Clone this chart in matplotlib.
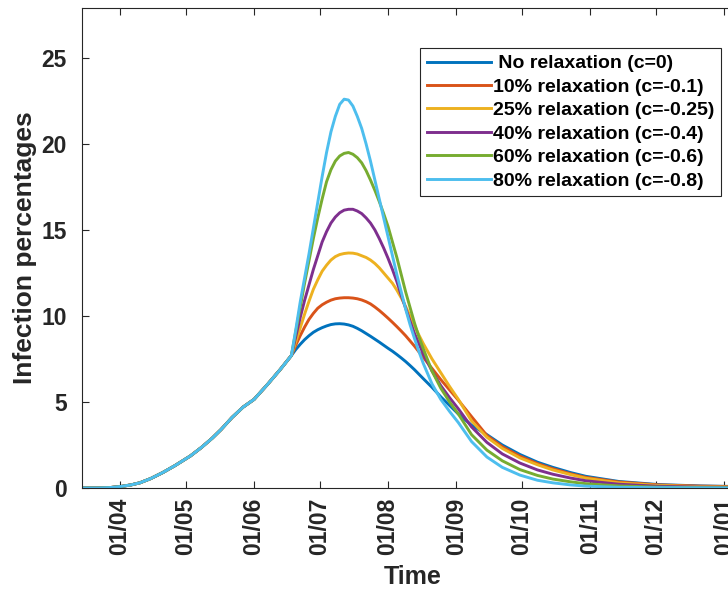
import numpy as np
import matplotlib
matplotlib.use('Agg')
import matplotlib.pyplot as plt
import matplotlib.dates as mdates
import pandas as pd

plt.rcParams['font.family'] = ['Liberation Sans', 'DejaVu Sans']
plt.rcParams['font.weight'] = 'bold'

# days counted from 1 April 2020, part shared by all scenarios
giorni_comuni = [-17, -10, -5, 0, 5, 9, 14, 19.5, 25, 32, 37, 42, 46, 51, 56, 61, 67, 73]
valori_comuni = [0, 0, 0.02, 0.08, 0.18, 0.3, 0.55, 0.9, 1.3, 1.86, 2.35, 2.9, 3.4, 4.1,
                 4.7, 5.15, 6.0, 6.9]

# after relaxation
giorni = [78, 80, 82, 84, 86, 88, 90, 92, 94, 96, 98, 100, 102, 104, 106, 108, 110, 112,
          114, 116, 118, 120, 122, 124, 126, 128, 130, 132, 134, 136, 138,
          142, 146, 150, 154, 160, 167, 174, 182, 190, 197, 205, 212, 227, 245, 264, 284]

c0 = [7.7, 8.05, 8.35, 8.62, 8.85, 9.05, 9.2, 9.32, 9.42, 9.5, 9.54, 9.55, 9.53, 9.48, 9.4,
      9.28, 9.14, 8.98, 8.82, 8.65, 8.48, 8.3, 8.12, 7.95, 7.76, 7.56, 7.35, 7.12, 6.88, 6.62,
      6.36, 5.85, 5.3, 4.8, 4.3, 3.65, 3.1, 2.5, 1.95, 1.5, 1.2, 0.9, 0.68, 0.38, 0.2, 0.12,
      0.08]
c01 = [7.7, 8.3, 8.85, 9.35, 9.8, 10.15, 10.45, 10.65, 10.8, 10.92, 11.0, 11.04, 11.06,
       11.06, 11.04, 11.0, 10.93, 10.83, 10.7, 10.52, 10.32, 10.1, 9.87, 9.63, 9.38, 9.12,
       8.85, 8.55, 8.25, 7.92, 7.6, 6.95, 6.3, 5.7, 5.1, 4.15, 3.05, 2.4, 1.85, 1.42, 1.12,
       0.83, 0.62, 0.35, 0.18, 0.11, 0.07]
c025 = [7.7, 8.5, 9.3, 10.1, 10.85, 11.55, 12.1, 12.6, 12.95, 13.25, 13.45, 13.57, 13.63,
        13.66, 13.65, 13.6, 13.5, 13.4, 13.25, 13.05, 12.8, 12.5, 12.2, 11.9, 11.5, 11.05,
        10.55, 10.0, 9.45, 8.9, 8.4, 7.5, 6.7, 5.9, 5.15, 3.9, 2.95, 2.3, 1.75, 1.35, 1.05,
        0.78, 0.57, 0.3, 0.15, 0.08, 0.05]
c04 = [7.7, 8.8, 9.9, 10.9, 11.8, 12.7, 13.5, 14.3, 14.9, 15.4, 15.75, 16.0, 16.15, 16.2,
       16.2, 16.1, 15.95, 15.7, 15.4, 15.0, 14.5, 13.95, 13.35, 12.7, 12.0, 11.2, 10.45, 9.7,
       9.0, 8.4, 7.8, 6.8, 5.95, 5.25, 4.6, 3.55, 2.65, 1.98, 1.45, 1.05, 0.8, 0.58, 0.42,
       0.22, 0.1, 0.05, 0.03]
c06 = [7.7, 9.1, 10.5, 11.9, 13.2, 14.5, 15.7, 16.8, 17.8, 18.5, 19.0, 19.3, 19.45, 19.5,
       19.4, 19.2, 18.9, 18.45, 17.9, 17.3, 16.65, 15.95, 15.2, 14.3, 13.4, 12.4, 11.4, 10.5,
       9.6, 8.8, 8.1, 6.8, 5.8, 5.0, 4.3, 3.1, 2.2, 1.58, 1.07, 0.73, 0.52, 0.36, 0.25, 0.12,
       0.05, 0.02, 0.01]
c08 = [7.7, 9.2, 10.8, 12.2, 13.6, 15.1, 16.6, 18.1, 19.5, 20.7, 21.6, 22.3, 22.6, 22.55,
       22.2, 21.6, 20.9, 20.0, 19.0, 17.9, 16.8, 15.7, 14.6, 13.5, 12.4, 11.4, 10.4, 9.5, 8.7,
       7.95, 7.25, 6.05, 5.15, 4.45, 3.8, 2.7, 1.8, 1.2, 0.75, 0.45, 0.3, 0.18, 0.11, 0.04,
       0.02, 0.01, 0.0]

etichette = [' No relaxation (c=0)', '10% relaxation (c=-0.1)', '25% relaxation (c=-0.25)',
             '40% relaxation (c=-0.4)', '60% relaxation (c=-0.6)', '80% relaxation (c=-0.8)']
colori = ['#0072BD', '#D95319', '#EDB120', '#7E2F8E', '#77AC30', '#4DBEEE']
serie = [c0, c01, c025, c04, c06, c08]

inizio = pd.Timestamp('2020-04-01')

def to_date(d):
    return inizio + pd.to_timedelta(np.array(d, dtype=float), unit='D')

fig = plt.figure(figsize=(7.28, 5.91), dpi=100)
ax = fig.add_axes([82 / 728, 103 / 591, 662 / 728, 480 / 591])

for y, col, lab in zip(serie, colori, etichette):
    x = to_date(giorni_comuni + giorni)
    ax.plot(x, valori_comuni + y, color=col, lw=2.1, label=lab)

ax.set_xlim(to_date([-17.3])[0], to_date([284])[0])
ax.set_ylim(0, 27.9)
ax.set_yticks([0, 5, 10, 15, 20, 25])
ax.xaxis.set_major_locator(mdates.MonthLocator())
ax.xaxis.set_major_formatter(mdates.DateFormatter('%d/%m'))
ax.tick_params(direction='in', length=5, width=0.8, labelsize=16.5, colors='#262626',
               top=True, right=True)
ax.tick_params(axis='y', pad=11)
ax.tick_params(axis='x', pad=7)
plt.setp(ax.get_xticklabels(), rotation=90)
for s in ax.spines.values():
    s.set_color('#262626')
    s.set_linewidth(0.8)

ax.set_xlabel('Time', fontsize=18, fontweight='bold', color='#262626', labelpad=7)
ax.set_ylabel('Infection percentages', fontsize=19, fontweight='bold', color='#262626',
              labelpad=3)

leg = ax.legend(loc='upper left', bbox_to_anchor=(0.5106, 0.9167), fontsize=14,
                frameon=True, fancybox=False, framealpha=1, edgecolor='#262626',
                handlelength=3.3, handletextpad=0.1, labelspacing=0.3, borderpad=0.35,
                borderaxespad=0)
leg.get_frame().set_linewidth(0.8)

fig.savefig('out.png', dpi=100)
